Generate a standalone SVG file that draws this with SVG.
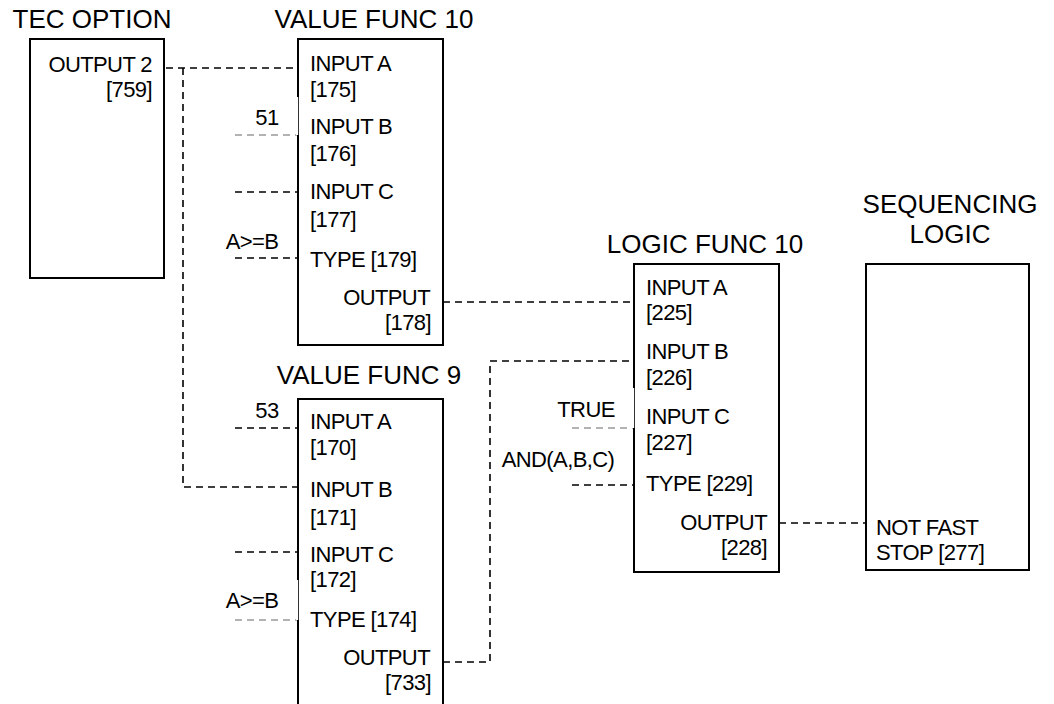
<svg xmlns="http://www.w3.org/2000/svg" width="1054" height="704" viewBox="0 0 1054 704">
<style>
  text { font-family: "Liberation Sans", Arial, sans-serif; fill: #000; }
  .t { font-size: 26px; text-anchor: middle; }
  .b { font-size: 22px; letter-spacing: -0.6px; }
  .e { text-anchor: end; }
  .m { text-anchor: middle; }
  .box { fill: none; stroke: #000; stroke-width: 2; }
  .d { fill: none; stroke: #000; stroke-width: 1.6; stroke-dasharray: 7 5; }
  .g { fill: none; stroke: #666; stroke-width: 1; stroke-dasharray: 7 5; }
  .gap { fill: #fff; stroke: none; }
</style>
<rect width="1054" height="704" fill="#fff"/>
<g id="connectors">
  <path class="d" d="M166,68 H298"/>
  <path class="d" d="M183,68 V487 H298"/>
  <path class="d" d="M443,302 H634"/>
  <path class="d" d="M443,662 H490 V361 H634"/>
  <path class="d" d="M779,523 H866"/>
  <path class="g" d="M235,135 H298"/>
  <path class="d" d="M235,192 H298"/>
  <path class="d" d="M235,258 H298"/>
  <path class="d" d="M235,428 H298"/>
  <path class="d" d="M235,552 H298"/>
  <path class="g" d="M235,620 H298"/>
  <path class="g" d="M572,428 H634"/>
  <path class="d" d="M572,485 H634"/>
</g>
<g id="tec-option">
  <text class="t" x="92" y="28">TEC OPTION</text>
  <rect class="box" x="30" y="39" width="134" height="239"/>
  <text class="b e" x="152" y="72">OUTPUT 2</text>
  <text class="b e" x="152" y="97">[759]</text>
</g>
<g id="value-func-10">
  <text class="t" x="374" y="28">VALUE FUNC 10</text>
  <rect class="box" x="298" y="39" width="145" height="306"/>
  <rect class="gap" x="296" y="97" width="2.2" height="38"/>
  <text class="b" x="310" y="71">INPUT A</text>
  <text class="b" x="310" y="97">[175]</text>
  <text class="b" x="310" y="134">INPUT B</text>
  <text class="b" x="310" y="161">[176]</text>
  <text class="b" x="310" y="199">INPUT C</text>
  <text class="b" x="310" y="227">[177]</text>
  <text class="b" x="310" y="267">TYPE [179]</text>
  <text class="b e" x="430" y="305">OUTPUT</text>
  <text class="b e" x="431" y="330">[178]</text>
  <text class="b m" x="267" y="125">51</text>
  <text class="b m" x="252" y="249">A&gt;=B</text>
</g>
<g id="value-func-9">
  <text class="t" x="369" y="384">VALUE FUNC 9</text>
  <rect class="box" x="298" y="399" width="145" height="320"/>
  <rect class="gap" x="296" y="580" width="2.2" height="40"/>
  <text class="b" x="310" y="429">INPUT A</text>
  <text class="b" x="310" y="455">[170]</text>
  <text class="b" x="310" y="497">INPUT B</text>
  <text class="b" x="310" y="525">[171]</text>
  <text class="b" x="310" y="562">INPUT C</text>
  <text class="b" x="310" y="587">[172]</text>
  <text class="b" x="310" y="627">TYPE [174]</text>
  <text class="b e" x="430" y="665">OUTPUT</text>
  <text class="b e" x="431" y="690">[733]</text>
  <text class="b m" x="267" y="418">53</text>
  <text class="b m" x="252" y="608">A&gt;=B</text>
</g>
<g id="logic-func-10">
  <text class="t" x="705" y="253">LOGIC FUNC 10</text>
  <rect class="box" x="634" y="264" width="145" height="308"/>
  <rect class="gap" x="632" y="388" width="2.2" height="40"/>
  <text class="b" x="646" y="295">INPUT A</text>
  <text class="b" x="646" y="320">[225]</text>
  <text class="b" x="646" y="359">INPUT B</text>
  <text class="b" x="646" y="385">[226]</text>
  <text class="b" x="646" y="424">INPUT C</text>
  <text class="b" x="646" y="450">[227]</text>
  <text class="b" x="646" y="491">TYPE [229]</text>
  <text class="b e" x="767" y="530">OUTPUT</text>
  <text class="b e" x="767" y="555">[228]</text>
  <text class="b m" x="586" y="417">TRUE</text>
  <text class="b m" x="558" y="467">AND(A,B,C)</text>
</g>
<g id="sequencing-logic">
  <text class="t" x="950" y="213">SEQUENCING</text>
  <text class="t" x="950" y="243">LOGIC</text>
  <rect class="box" x="866" y="264" width="163" height="306"/>
  <text class="b" x="876" y="535">NOT FAST</text>
  <text class="b" x="876" y="560">STOP [277]</text>
</g>
</svg>
